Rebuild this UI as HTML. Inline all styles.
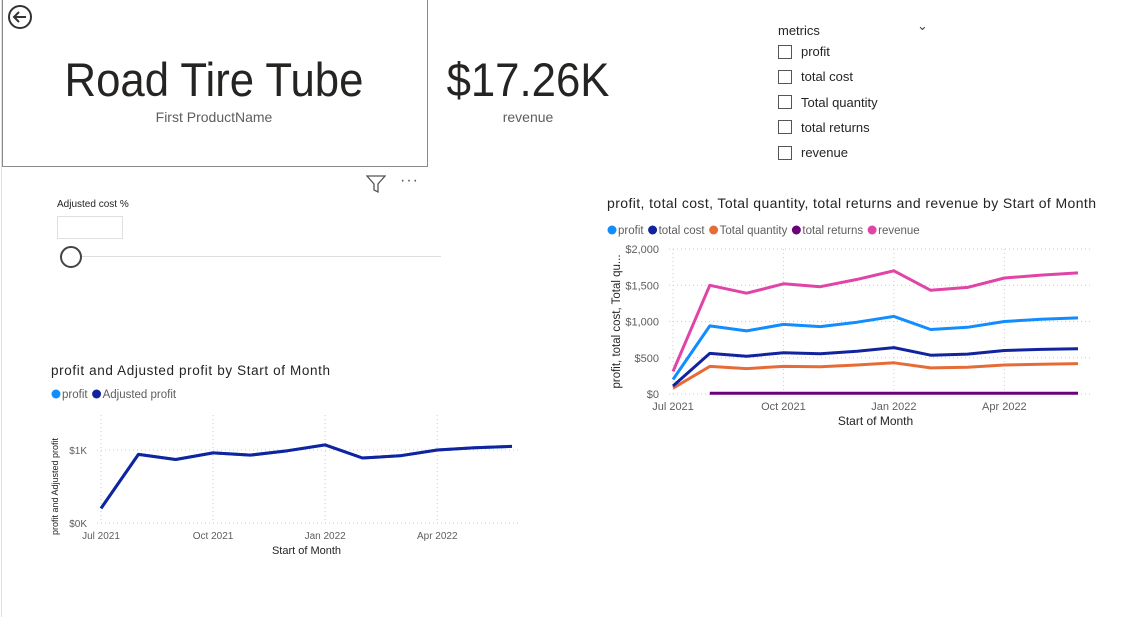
<!DOCTYPE html>
<html><head><meta charset="utf-8"><style>
body{margin:0;width:1127px;height:617px;background:#fff;font-family:"Liberation Sans",sans-serif;position:relative;overflow:hidden}
.a{position:absolute}
.t{color:#252423}
</style></head><body>
<div class="a" style="left:1px;top:0;width:1px;height:617px;background:#e0e0e0"></div>
<div class="a" style="left:2px;top:0;width:424px;height:166px;border:1px solid #8a8a8a;border-top:none"></div>
<svg class="a" style="left:6px;top:3px" width="28" height="28"><circle cx="14" cy="14" r="11" fill="none" stroke="#333" stroke-width="2"/><path d="M20 14H8M13 9l-5 5 5 5" fill="none" stroke="#333" stroke-width="2"/></svg>
<div class="a t" style="left:2px;width:424px;top:52px;text-align:center;font-size:47px;transform:scaleX(0.93)">Road Tire Tube</div>
<div class="a" style="left:2px;width:424px;top:109px;text-align:center;font-size:14px;color:#605e5c">First ProductName</div>
<div class="a t" style="left:428px;width:200px;top:52px;text-align:center;font-size:47px;transform:scaleX(0.93)">$17.26K</div>
<div class="a" style="left:428px;width:200px;top:109px;text-align:center;font-size:14px;color:#605e5c">revenue</div>
<div class="a t" style="left:778px;top:23px;font-size:13px">metrics</div>
<div class="a" style="left:917px;top:18px;font-size:13px;color:#444">&#8964;</div>
<div id="slicer"></div>
<svg class="a" style="left:366px;top:174px" width="20" height="20"><path d="M1 2h18l-7 8v8l-4-2v-6z" fill="none" stroke="#555" stroke-width="1.3"/></svg>
<div class="a" style="left:400px;top:172px;font-size:16px;color:#555;letter-spacing:1px">···</div>
<div class="a t" style="left:57px;top:199px;font-size:10px">Adjusted cost %</div>
<div class="a" style="left:57px;top:216px;width:64px;height:21px;border:1px solid #e0e0e0"></div>
<div class="a" style="left:70px;top:256px;width:371px;height:1px;background:#ddd"></div>
<div class="a" style="left:60px;top:246px;width:18px;height:18px;border:2px solid #444;border-radius:50%;background:#fff"></div>
<svg class="a" id="chart" style="left:0;top:0" width="1127" height="617" font-family="Liberation Sans, sans-serif"></svg>
<script>
const metrics=["profit","total cost","Total quantity","total returns","revenue"];
const months=["Jul 2021","Aug 2021","Sep 2021","Oct 2021","Nov 2021","Dec 2021","Jan 2022","Feb 2022","Mar 2022","Apr 2022","May 2022","Jun 2022"];
const tickLabels=["Jul 2021","Oct 2021","Jan 2022","Apr 2022"];
const tickIdx=[0,3,6,9];
const profit=[200,940,870,960,930,990,1070,890,920,1000,1030,1050];
const totalCost=[110,560,520,570,555,590,640,535,550,600,615,625];
const totalQuantity=[80,380,350,380,375,400,430,360,370,400,410,420];
const totalReturns=[null,10,9,10,9,10,11,10,9,10,9,9];
const revenue=[310,1500,1390,1520,1480,1580,1700,1430,1470,1600,1640,1670];
const adjustedProfit=[200,940,870,960,930,990,1070,890,920,1000,1030,1050];
const rYTicks=[0,500,1000,1500,2000];
const rYLabels=["$0","$500","$1,000","$1,500","$2,000"];
const lYTicks=[0,1000];
const lYLabels=["$0K","$1K"];

const sl=document.getElementById('slicer');
metrics.forEach((m,i)=>{
 const d=document.createElement('div');d.className='a';
 
 
 d.style.cssText=`left:778px;top:${44+i*25.3}px;font-size:13px;color:#252423;display:flex;align-items:center`;
 d.innerHTML='<span style="display:inline-block;width:12px;height:12px;border:1px solid #555;margin-right:9px"></span>'+m;
 sl.appendChild(d);
});
const svg=document.getElementById('chart');const NS='http://www.w3.org/2000/svg';
function el(t,a,txt){const e=document.createElementNS(NS,t);for(const k in a)e.setAttribute(k,a[k]);if(txt!==undefined)e.textContent=txt;svg.appendChild(e);return e;}
function chart(o){
 const x=i=>o.x0+i*(o.x1-o.x0)/(months.length-1);
 const y=v=>o.y0-(v/o.vmax)*(o.y0-o.yTop);
 let t=el('text',{x:o.tx,y:o.ty,'font-size':o.tfs,fill:'#252423',textLength:o.tlen,lengthAdjust:'spacing'},o.title);
 
 let lx=o.tx;
 o.series.forEach(s=>{
  let c=el('circle',{cx:lx+5,cy:o.ly-4,r:4.5,fill:s.c});
  
  let tt=el('text',{x:lx+11,y:o.ly,'font-size':11.5,fill:'#605e5c'},s.n);
  
  lx+=11+tt.getComputedTextLength()+4;
 });
 o.yt.forEach((v,i)=>{
  let g=el('line',{x1:o.x0-4,x2:o.xg,y1:y(v),y2:y(v),stroke:'#ccc','stroke-dasharray':'1 3'});
  
  let l=el('text',{x:o.x0-14,y:y(v)+4,'font-size':o.fs,fill:'#605e5c','text-anchor':'end'},o.yl[i]);
  
 });
 tickIdx.forEach((ti,i)=>{
  let g=el('line',{x1:x(ti),x2:x(ti),y1:o.yTop-o.gext,y2:o.y0,stroke:'#ccc','stroke-dasharray':'1 3'});
  
  let l=el('text',{x:x(ti),y:o.y0+16,'font-size':o.fs,fill:'#605e5c','text-anchor':'middle'},tickLabels[i]);
  
 });
 let xt=el('text',{x:(o.x0+o.x1)/2,y:o.y0+31,'font-size':o.fs+1,fill:'#252423','text-anchor':'middle'},'Start of Month');
 
 let yt=el('text',{x:0,y:0,'font-size':o.yfs,fill:'#252423','text-anchor':'middle',transform:`translate(${o.yax},${(o.y0+o.yTop)/2}) rotate(-90)`},o.ytitle);
 
 o.draw.forEach(s=>{
  let d='';let pen=false;
  s.d.forEach((v,i)=>{if(v===null){pen=false;return;}d+=(pen?'L':'M')+x(i).toFixed(1)+' '+y(v).toFixed(1);pen=true;});
  let p=el('path',{d:d,fill:'none',stroke:s.c,'stroke-width':3,'stroke-linejoin':'round'});
  
 });
}
const C={profit:'#118dff',cost:'#12239e',qty:'#e66c37',ret:'#6b007b',rev:'#e044a7'};
chart({id:'metrics-chart',title:'profit, total cost, Total quantity, total returns and revenue by Start of Month',tx:607,ty:208,tfs:14,tlen:489,ly:234,
 x0:673,x1:1078,xg:1090,y0:394,yTop:249,gext:0,vmax:2000,yt:rYTicks,yl:rYLabels,fs:11,yfs:11.5,yax:620,ytitle:'profit, total cost, Total qu...',
 series:[{n:'profit',c:C.profit},{n:'total cost',c:C.cost},{n:'Total quantity',c:C.qty},{n:'total returns',c:C.ret},{n:'revenue',c:C.rev}],
 draw:[{n:'total returns',c:C.ret,d:totalReturns},{n:'Total quantity',c:C.qty,d:totalQuantity},{n:'total cost',c:C.cost,d:totalCost},{n:'profit',c:C.profit,d:profit},{n:'revenue',c:C.rev,d:revenue}]});
chart({id:'adjusted-chart',title:'profit and Adjusted profit by Start of Month',tx:51,ty:375,tfs:13.5,tlen:279,ly:398,
 x0:101,x1:512,xg:518,y0:523,yTop:450,gext:35,vmax:1000,yt:lYTicks,yl:lYLabels,fs:10,yfs:9,yax:58,ytitle:'profit and Adjusted profit',
 series:[{n:'profit',c:C.profit},{n:'Adjusted profit',c:C.cost}],
 draw:[{n:'profit',c:C.profit,d:profit},{n:'Adjusted profit',c:C.cost,d:adjustedProfit}]});
</script>
</body></html>
